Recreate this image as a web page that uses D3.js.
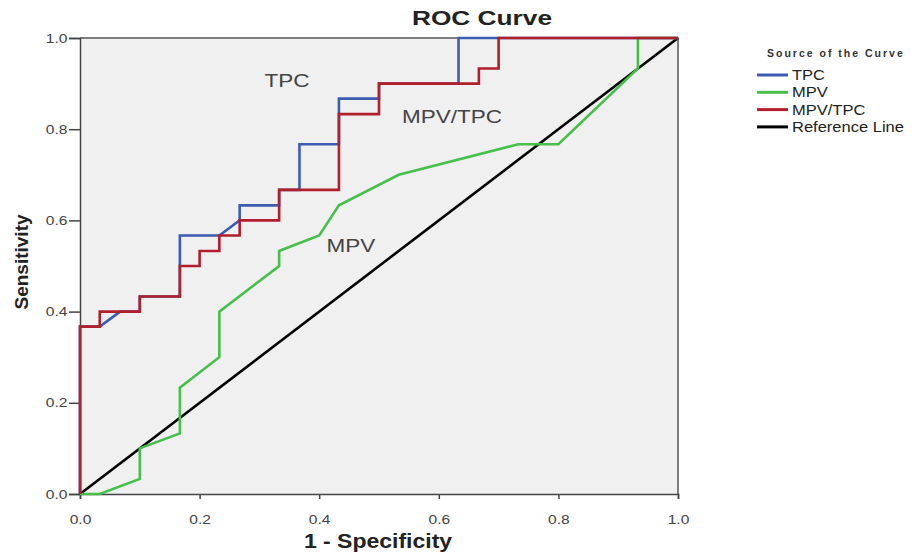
<!DOCTYPE html>
<html>
  <head>
    <style>
      body {
        margin: 0;
        font-family: "Liberation Sans", Arial, sans-serif;
        background: white;
      }
    </style>
  </head>
<body>
  <div id="roc"></div>

  <script src="https://d3js.org/d3.v7.min.js"></script>
  <script>

    // 1 - Specificity / Sensitivity pairs
    var tpcX  = [0, 0, 0.033, 0.067, 0.1, 0.1, 0.167, 0.167, 0.233, 0.267, 0.267, 0.333, 0.333, 0.367, 0.367, 0.433, 0.433, 0.5, 0.5, 0.633, 0.633, 1];
    var tpcY  = [0, 0.367, 0.367, 0.4, 0.4, 0.433, 0.433, 0.567, 0.567, 0.6, 0.633, 0.633, 0.667, 0.667, 0.767, 0.767, 0.867, 0.867, 0.9, 0.9, 1, 1];

    var mpvX  = [0, 0.033, 0.1, 0.1, 0.167, 0.167, 0.233, 0.233, 0.333, 0.333, 0.4, 0.433, 0.533, 0.733, 0.8, 0.933, 0.933, 1];
    var mpvY  = [0, 0, 0.033, 0.1, 0.133, 0.233, 0.3, 0.4, 0.5, 0.533, 0.567, 0.633, 0.7, 0.767, 0.767, 0.933, 1, 1];

    var ratioX = [0, 0, 0.033, 0.033, 0.1, 0.1, 0.167, 0.167, 0.2, 0.2, 0.233, 0.233, 0.267, 0.267, 0.333, 0.333, 0.433, 0.433, 0.5, 0.5, 0.667, 0.667, 0.7, 0.7, 1];
    var ratioY = [0, 0.367, 0.367, 0.4, 0.4, 0.433, 0.433, 0.5, 0.5, 0.533, 0.533, 0.567, 0.567, 0.6, 0.6, 0.667, 0.667, 0.833, 0.833, 0.9, 0.9, 0.933, 0.933, 1, 1];

    var refX = [0, 1];
    var refY = [0, 1];

    var seriesNames = ["TPC", "MPV", "MPV/TPC", "Reference Line"];
    var seriesColors = ["#3d5bb0", "#46c04a", "#b11f2c", "#000000"];
    var tickValues = [0, 0.2, 0.4, 0.6, 0.8, 1.0];

    var margin = {top: 38, right: 239, bottom: 62, left: 80},
      width = 917 - margin.left - margin.right,
      height = 556 - margin.top - margin.bottom;

    // the source picture is stretched sideways, so texts get a small x scale
    function place(sel, px, py, sx) {
      sel.attr("transform", "translate(" + px + "," + py + ") scale(" + sx + ",1)");
      return sel;
    }

    var root = d3.select("#roc")
      .append("svg")
      .attr("width", 917)
      .attr("height", 556);

    var svg = root.append("g")
      .attr("transform", "translate(" + margin.left + "," + margin.top + ")");

    var x = d3.scaleLinear().domain([0, 1]).range([0, width]);
    var y = d3.scaleLinear().domain([0, 1]).range([height, 0]);

    svg.append("rect")
      .attr("width", width)
      .attr("height", height)
      .style("fill", "#f0f0f0");

    // top and right frame
    svg.append("path")
      .attr("d", "M0,0H" + width + "V" + height)
      .style("fill", "none")
      .style("stroke", "#555")
      .style("stroke-width", 1.5);

    var xAxis = svg.append("g")
      .attr("transform", "translate(0," + height + ")")
      .call(d3.axisBottom(x).tickValues(tickValues).tickFormat(d3.format(".1f")).tickSize(5));

    var yAxis = svg.append("g")
      .call(d3.axisLeft(y).tickValues(tickValues).tickFormat(d3.format(".1f")).tickSize(11));

    [xAxis, yAxis].forEach(function(a) {
      a.select(".domain").style("stroke", "#444").style("stroke-width", 1.5);
      a.selectAll(".tick line").style("stroke", "#444").style("stroke-width", 1.5);
      a.selectAll("text")
        .style("font-family", "Liberation Sans, Arial")
        .style("font-size", "13px")
        .style("fill", "#444")
        .attr("transform", "scale(1.2,1)");
    });
    xAxis.selectAll("text").attr("y", 0).attr("dy", "2.3em");
    yAxis.selectAll("text").attr("x", -10.5);

    var line = d3.line()
      .x(function(d) { return x(d[0]); })
      .y(function(d) { return y(d[1]); });

    function pairs(xs, ys) {
      return xs.map(function(v, i) { return [v, ys[i]]; });
    }

    var curves = [
      {data: pairs(refX, refY), color: seriesColors[3]},
      {data: pairs(mpvX, mpvY), color: seriesColors[1]},
      {data: pairs(tpcX, tpcY), color: seriesColors[0]},
      {data: pairs(ratioX, ratioY), color: seriesColors[2]}
    ];

    curves.forEach(function(c) {
      svg.append("path")
        .datum(c.data)
        .attr("d", line)
        .style("fill", "none")
        .style("stroke", c.color)
        .style("stroke-width", 2.6);
    });

    // curve labels inside the plot
    var labels = [
      {t: "TPC", x: 0.346, y: 0.893},
      {t: "MPV/TPC", x: 0.622, y: 0.814},
      {t: "MPV", x: 0.453, y: 0.531}
    ];
    labels.forEach(function(d) {
      place(svg.append("text"), x(d.x), y(d.y), 1.25)
        .style("text-anchor", "middle")
        .style("font-size", "18px")
        .style("fill", "#444")
        .text(d.t);
    });

    place(root.append("text"), 482, 25, 1.25)
      .style("text-anchor", "middle")
      .style("font-size", "21px")
      .style("font-weight", "bold")
      .style("fill", "#222")
      .text("ROC Curve");

    place(root.append("text"), 378, 548, 1.15)
      .style("text-anchor", "middle")
      .style("font-size", "20px")
      .style("font-weight", "bold")
      .style("fill", "#222")
      .text("1 - Specificity");

    root.append("text")
      .attr("transform", "translate(28,262) rotate(-90)")
      .style("text-anchor", "middle")
      .style("font-size", "19px")
      .style("font-weight", "bold")
      .style("fill", "#222")
      .text("Sensitivity");

    // legend
    var legend = root.append("g")
      .attr("transform", "translate(757,75)");

    legend.append("text")
      .attr("x", 10)
      .attr("y", -18)
      .style("font-size", "10.5px")
      .style("font-weight", "bold")
      .style("letter-spacing", "2px")
      .style("fill", "#333")
      .text("Source of the Curve");

    var item = legend.selectAll(".item")
      .data(seriesNames)
      .enter()
      .append("g")
      .attr("transform", function(d, i) { return "translate(0," + (i * 17.3) + ")"; });

    item.append("line")
      .attr("x1", 0)
      .attr("x2", 31)
      .style("stroke", function(d, i) { return seriesColors[i]; })
      .style("stroke-width", 3);

    item.append("text")
      .attr("transform", "translate(35,0) scale(1.18,1)")
      .attr("dy", "0.36em")
      .style("font-size", "14px")
      .style("fill", "#222")
      .text(function(d) { return d; });

  </script>
</body>
</html>
